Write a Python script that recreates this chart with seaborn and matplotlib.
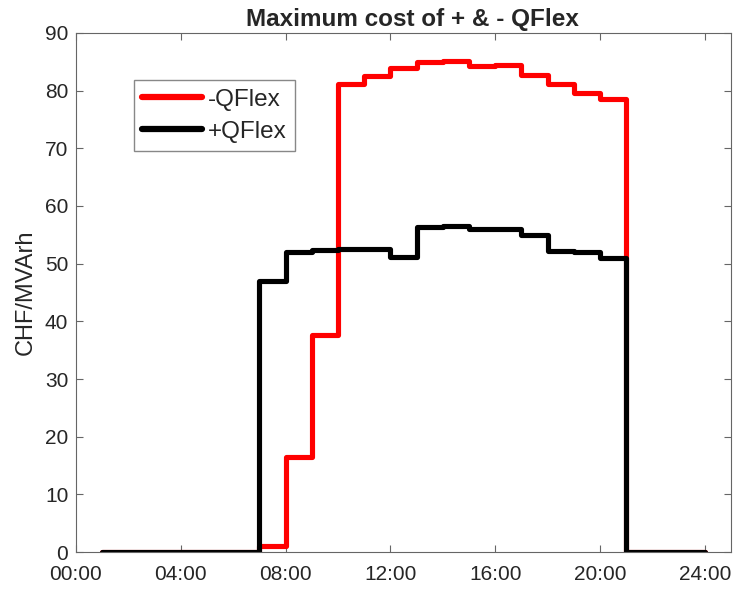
import matplotlib
matplotlib.use("Agg")
import matplotlib.pyplot as plt
import seaborn as sns
import pandas as pd

# Hourly maximum cost (CHF/MVArh), value holds from hour h to h+1
hours = list(range(1, 25))
neg_qflex = [0, 0, 0, 0, 0, 0, 1.1, 16.4, 37.6, 81.2, 82.5, 84.0,
             85.0, 85.1, 84.3, 84.4, 82.7, 81.2, 79.6, 78.5, 0, 0, 0, 0]
pos_qflex = [0, 0, 0, 0, 0, 0, 47.0, 52.1, 52.3, 52.5, 52.6, 51.1,
             56.4, 56.6, 56.0, 56.0, 55.0, 52.2, 52.1, 50.9, 0, 0, 0, 0]
series_names = ["-QFlex", "+QFlex"]
series_colors = ["#ff0000", "#000000"]
tick_hours = [0, 4, 8, 12, 16, 20, 24]
tick_labels = ["00:00", "04:00", "08:00", "12:00", "16:00", "20:00", "24:00"]

df = pd.concat([
    pd.DataFrame({"hour": hours, "cost": neg_qflex, "series": series_names[0]}),
    pd.DataFrame({"hour": hours, "cost": pos_qflex, "series": series_names[1]}),
])

sns.set_style("white")
plt.rcParams["font.family"] = ["Liberation Sans", "DejaVu Sans"]

fig = plt.figure(figsize=(7.35, 5.89), dpi=100)
ax = fig.add_axes([0.1034, 0.0628, 0.8912, 0.8812])

sns.lineplot(data=df, x="hour", y="cost", hue="series", hue_order=series_names,
             palette=dict(zip(series_names, series_colors)), drawstyle="steps-post",
             linewidth=3.7, estimator=None, sort=True, ax=ax)

ax.set_xlim(0, 25)
ax.set_ylim(0, 90)
ax.set_xticks(tick_hours)
ax.set_xticklabels(tick_labels)
ax.set_yticks(range(0, 91, 10))
ax.tick_params(direction="in", length=5, width=0.8, colors="#666666",
               labelcolor="#262626", labelsize=15, top=True, right=True,
               bottom=True, left=True)
ax.tick_params(axis="x", pad=9)
ax.tick_params(axis="y", pad=5.5)
for s in ax.spines.values():
    s.set_visible(True)
    s.set_color("#666666")
    s.set_linewidth(0.8)

ax.set_xlabel("")
ax.set_ylabel("CHF/MVArh", fontsize=17, color="#262626", labelpad=6)
ax.set_title("Maximum cost of + & - QFlex", fontsize=17.5, fontweight="bold",
             x=0.514, pad=5)

leg = ax.legend(loc="upper left", bbox_to_anchor=(0.0885, 0.909), borderaxespad=0,
                fontsize=17.5, handlelength=2.45, handletextpad=0.25,
                fancybox=False, framealpha=1, edgecolor="#888888",
                borderpad=0.35, labelspacing=0.42)
for line in leg.get_lines():
    line.set_linewidth(4.5)

fig.savefig("out.png", dpi=100)
